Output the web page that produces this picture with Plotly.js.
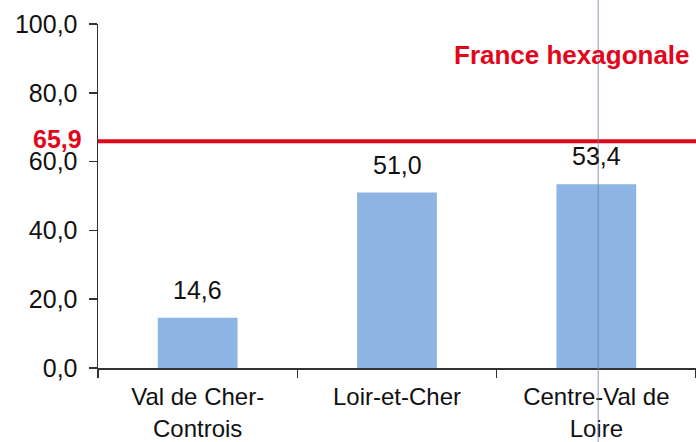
<!DOCTYPE html>
<html>
<head>
<meta charset="utf-8">
<script src="https://cdn.plot.ly/plotly-3.0.1.min.js"></script>
<style>html,body{margin:0;padding:0;background:#fff;}#chart{width:696px;height:442px;}</style>
</head>
<body>
<div id="chart"></div>
<script>
const categories = ["Val de Cher-<br>Controis", "Loir-et-Cher", "Centre-Val de<br>Loire"];
const values = [14.6, 51.0, 53.4];
const referenceValue = 65.9;
const referenceLabel = "France hexagonale";
const yTicks = [0, 20, 40, 60, 80, 100];

const fmt = v => v.toFixed(1).replace('.', ',');
const FONT = "Liberation Sans, Arial, sans-serif";
const RED = "#E3051B";

const trace = {
  type: "bar",
  x: categories,
  y: values,
  width: 0.4,
  marker: {color: "#8DB4E2"},
  hoverinfo: "none"
};

const annotations = categories.map((c, i) => ({
  x: c, y: values[i], xref: "x", yref: "y",
  text: fmt(values[i]), showarrow: false,
  yanchor: "middle", yshift: 28,
  font: {family: FONT, size: 25, color: "#111"}
}));
annotations.push({
  xref: "paper", x: 0, xanchor: "right", xshift: -14,
  yref: "y", y: referenceValue, yanchor: "middle", yshift: 2,
  text: "<b>" + fmt(referenceValue) + "</b>", showarrow: false,
  font: {family: FONT, size: 25, color: RED}
});
annotations.push({
  xref: "paper", x: 1, xanchor: "right", xshift: -4,
  yref: "y", y: 91, yanchor: "middle",
  text: "<b>" + referenceLabel + "</b>", showarrow: false,
  font: {family: FONT, size: 26, color: RED}
});

const layout = {
  width: 696, height: 442,
  margin: {l: 98, r: 0, t: 24, b: 74},
  paper_bgcolor: "#fff", plot_bgcolor: "#fff",
  showlegend: false,
  font: {family: FONT, size: 25, color: "#111"},
  xaxis: {
    type: "category",
    showline: true, linecolor: "#333", linewidth: 1.5,
    ticks: "outside", tickson: "boundaries", ticklen: 8, tickcolor: "#333", tickwidth: 1.5,
    ticklabelstandoff: 7,
    showgrid: false, zeroline: false,
    tickfont: {family: FONT, size: 24, color: "#111"},
    fixedrange: true
  },
  yaxis: {
    range: [0, 100],
    tickvals: yTicks,
    ticktext: yTicks.map(fmt),
    showline: true, linecolor: "#333", linewidth: 1.5,
    ticks: "outside", ticklen: 8, tickcolor: "#333", tickwidth: 1.5,
    ticklabelstandoff: 6,
    showgrid: false, zeroline: false,
    tickfont: {family: FONT, size: 25, color: "#111"},
    fixedrange: true
  },
  shapes: [
    {type: "line", xref: "paper", x0: 0, x1: 1, yref: "y", y0: referenceValue, y1: referenceValue,
     line: {color: RED, width: 4}},
    {type: "line", xref: "paper", x0: 0.8365, x1: 0.8365, yref: "paper", y0: -0.22, y1: 1.08,
     line: {color: "rgba(110,130,160,0.8)", width: 1}}
  ],
  annotations: annotations
};

Plotly.newPlot("chart", [trace], layout, {displayModeBar: false, staticPlot: true});
</script>
</body>
</html>
